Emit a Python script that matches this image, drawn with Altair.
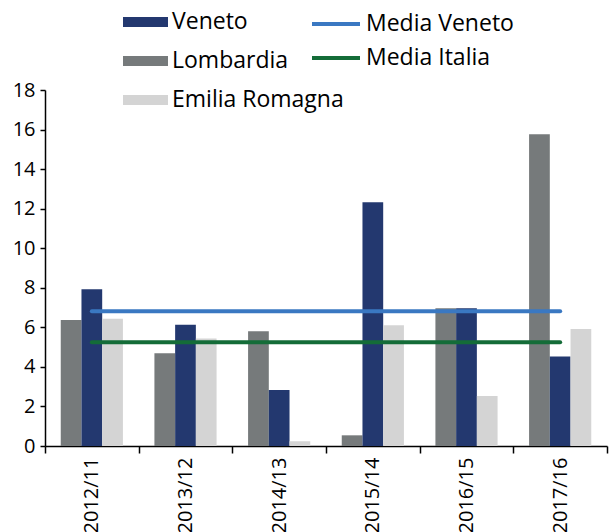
import altair as alt
import pandas as pd

periods = ["2012/11", "2013/12", "2014/13", "2015/14", "2016/15", "2017/16"]
veneto = [7.92, 6.13, 2.83, 12.32, 6.96, 4.53]
lombardia = [6.37, 4.69, 5.80, 0.54, 6.96, 15.76]
emilia = [6.44, 5.44, 0.24, 6.10, 2.53, 5.91]
media_veneto = 6.81
media_italia = 5.24

bar_series = ["Lombardia", "Veneto", "Emilia Romagna"]
bar_legend_order = ["Veneto", "Lombardia", "Emilia Romagna"]
bar_colors = ["#767A7B", "#23386F", "#D4D4D4"]
line_series = ["Media Veneto", "Media Italia"]
line_colors = ["#3A78C2", "#146C38"]

rows = []
for s, vals in zip(bar_series, [lombardia, veneto, emilia]):
    for p, v in zip(periods, vals):
        rows.append({"periodo": p, "serie": s, "valore": v})
bars_df = pd.DataFrame(rows)

lrows = []
for s, v in zip(line_series, [media_veneto, media_italia]):
    for p in periods:
        lrows.append({"periodo": p, "serie": s, "valore": v})
lines_df = pd.DataFrame(lrows)

FONT = "Open Sans"

x_enc = alt.X(
    "periodo:N",
    sort=periods,
    scale=alt.Scale(paddingInner=0, paddingOuter=0),
    axis=alt.Axis(
        title=None, labelAngle=270, tickBand="extent", tickSize=7,
        labelFontSize=20, labelPadding=4, labelColor="#000000",
        domainColor="#000000", tickColor="#000000", labelFont=FONT,
        domainWidth=1.5, tickWidth=1.5,
    ),
)
y_enc = alt.Y(
    "valore:Q",
    scale=alt.Scale(domain=[0, 18], nice=False),
    axis=alt.Axis(
        title=None, values=list(range(0, 19, 2)), grid=False, tickSize=5,
        labelFontSize=20, labelPadding=5, labelColor="#000000",
        domainColor="#000000", tickColor="#000000", labelFont=FONT,
        domainWidth=1.5, tickWidth=1.5,
    ),
)

bars = alt.Chart(bars_df).mark_bar().encode(
    x=x_enc,
    xOffset=alt.XOffset("serie:N", sort=bar_series,
                        scale=alt.Scale(paddingInner=0, paddingOuter=0.76)),
    y=y_enc,
    fill=alt.Fill(
        "serie:N",
        scale=alt.Scale(domain=bar_series, range=bar_colors),
        legend=alt.Legend(
            title=None, orient="none", legendX=78, legendY=-79,
            values=bar_legend_order,
            symbolType="M-1,-0.22L1,-0.22L1,0.22L-1,0.22Z",
            symbolSize=2025, symbolStrokeWidth=0, symbolOpacity=1,
            labelFontSize=23, labelFont=FONT, labelColor="#000000",
            labelLimit=400,
            labelOffset=4, rowPadding=16, clipHeight=22, padding=0,
        ),
    ),
)

lines = alt.Chart(lines_df).mark_line(strokeWidth=4, strokeCap="round").encode(
    x=x_enc,
    y=y_enc,
    stroke=alt.Stroke(
        "serie:N",
        sort=line_series,
        scale=alt.Scale(domain=line_series, range=line_colors),
        legend=alt.Legend(
            title=None, orient="none", legendX=265, legendY=-77,
            symbolType="stroke", symbolSize=2304, symbolStrokeWidth=4,
            labelFontSize=23, labelFont=FONT, labelColor="#000000",
            labelLimit=400,
            labelOffset=4, rowPadding=11, clipHeight=22, padding=0,
        ),
    ),
)

chart = alt.layer(bars, lines).properties(
    width=562, height=356,
    padding={"left": 45, "top": 90, "right": 2, "bottom": 86},
    autosize=alt.AutoSizeParams(type="none"),
    background="#ffffff",
).configure_view(stroke=None)

chart.save("out.html", embed_options={"renderer": "svg", "actions": False})
